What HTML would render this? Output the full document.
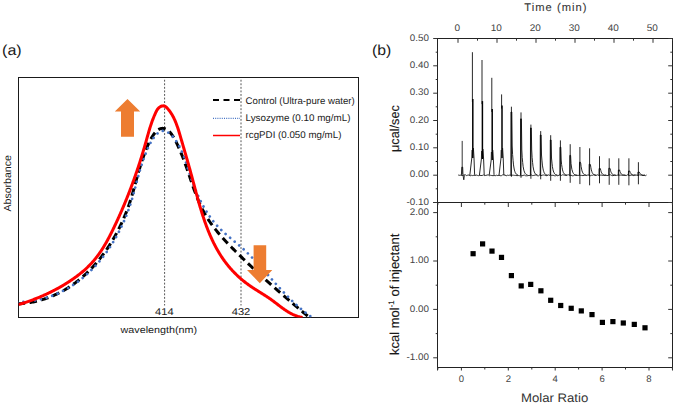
<!DOCTYPE html>
<html><head><meta charset="utf-8"><style>
html,body{margin:0;padding:0;background:#fff;}
body{width:676px;height:405px;overflow:hidden;}
svg{display:block;font-family:"Liberation Sans",sans-serif;text-rendering:geometricPrecision;}
</style></head><body>
<svg width="676" height="405" viewBox="0 0 676 405">
<rect width="676" height="405" fill="#fff"/>
<defs><clipPath id="cpa"><rect x="18.5" y="77.5" width="340" height="240"/></clipPath></defs>
<text x="2.1" y="54.8" font-size="14.5" fill="#1a1a1a" textLength="19.6" lengthAdjust="spacingAndGlyphs">(a)</text>
<rect x="18.5" y="77.5" width="340" height="240" fill="none" stroke="#1a1a1a" stroke-width="1"/>
<path d="M164.6,79.75 V305.5 M241,79.75 V305.5" stroke="#555" stroke-width="1" stroke-dasharray="1.9,1.66" fill="none"/>
<path clip-path="url(#cpa)" d="M17.60,303.82 L18.68,303.77 L19.76,303.70 L20.83,303.63 L21.90,303.54 L22.96,303.44 L24.01,303.34 L25.07,303.22 L26.11,303.09 L27.15,302.95 L28.19,302.81 L29.22,302.65 L30.25,302.48 L31.28,302.30 L32.29,302.11 L33.31,301.91 L34.32,301.70 L35.32,301.48 L36.32,301.25 L37.31,301.01 L38.30,300.77 L39.29,300.51 L40.27,300.24 L41.25,299.97 L42.22,299.68 L43.18,299.39 L44.14,299.08 L45.10,298.77 L46.05,298.45 L47.00,298.12 L47.94,297.78 L48.88,297.43 L49.81,297.07 L50.74,296.70 L51.66,296.33 L52.58,295.94 L53.49,295.55 L54.40,295.15 L55.30,294.74 L56.20,294.33 L57.10,293.90 L57.99,293.47 L58.87,293.03 L59.75,292.58 L60.63,292.12 L61.50,291.66 L62.36,291.18 L63.22,290.70 L64.08,290.21 L64.93,289.72 L65.78,289.21 L66.62,288.70 L67.45,288.19 L68.29,287.66 L69.11,287.13 L69.94,286.59 L70.75,286.04 L71.57,285.49 L72.37,284.93 L73.18,284.36 L73.97,283.79 L74.77,283.20 L75.56,282.62 L76.34,282.02 L77.12,281.42 L77.89,280.81 L78.66,280.20 L79.43,279.58 L80.19,278.95 L80.94,278.32 L81.69,277.68 L82.44,277.04 L83.18,276.39 L83.91,275.73 L84.64,275.07 L85.37,274.40 L86.09,273.73 L86.80,273.05 L87.51,272.37 L88.22,271.68 L88.92,270.98 L89.62,270.28 L90.31,269.58 L91.00,268.86 L91.68,268.15 L92.36,267.43 L93.03,266.70 L93.70,265.97 L94.36,265.23 L95.02,264.49 L95.67,263.75 L96.32,263.00 L96.96,262.24 L97.60,261.48 L98.23,260.72 L98.86,259.95 L99.49,259.18 L100.10,258.41 L100.72,257.62 L101.33,256.84 L101.93,256.05 L102.53,255.26 L103.13,254.46 L103.72,253.66 L104.30,252.86 L104.88,252.05 L105.46,251.24 L106.03,250.43 L106.59,249.61 L107.15,248.79 L107.71,247.97 L108.26,247.14 L108.80,246.31 L109.34,245.48 L109.88,244.64 L110.41,243.80 L110.94,242.96 L111.46,242.11 L111.98,241.26 L112.49,240.41 L112.99,239.56 L113.49,238.71 L113.99,237.85 L114.48,236.99 L114.97,236.12 L115.45,235.26 L115.93,234.39 L116.40,233.52 L116.87,232.65 L117.33,231.78 L117.79,230.90 L118.24,230.03 L118.69,229.15 L119.13,228.27 L119.57,227.39 L120.00,226.50 L120.43,225.62 L120.85,224.73 L121.27,223.85 L121.69,222.96 L122.09,222.07 L122.50,221.18 L122.90,220.29 L123.29,219.39 L123.68,218.50 L124.06,217.60 L124.44,216.71 L124.82,215.81 L125.18,214.92 L125.55,214.02 L125.91,213.12 L126.26,212.22 L126.61,211.33 L126.96,210.43 L127.29,209.53 L127.63,208.63 L127.96,207.73 L128.28,206.83 L128.60,205.93 L128.92,205.04 L129.23,204.14 L129.53,203.24 L129.83,202.34 L130.13,201.45 L130.42,200.55 L130.70,199.65 L130.98,198.76 L131.26,197.86 L131.53,196.96 L131.80,196.07 L132.07,195.17 L132.33,194.27 L132.59,193.37 L132.85,192.47 L133.11,191.57 L133.36,190.66 L133.62,189.76 L133.87,188.85 L134.12,187.94 L134.37,187.03 L134.62,186.11 L134.87,185.20 L135.13,184.28 L135.38,183.35 L135.63,182.43 L135.88,181.50 L136.14,180.56 L136.39,179.62 L136.65,178.68 L136.91,177.74 L137.18,176.79 L137.44,175.83 L137.71,174.87 L137.99,173.91 L138.26,172.94 L138.54,171.96 L138.83,170.98 L139.12,170.00 L139.41,169.00 L139.71,168.01 L140.02,167.00 L140.33,165.99 L140.65,164.97 L140.97,163.95 L141.30,162.92 L141.64,161.88 L141.98,160.83 L142.33,159.78 L142.69,158.72 L143.06,157.65 L143.43,156.57 L143.82,155.48 L144.21,154.39 L144.61,153.29 L145.02,152.19 L145.44,151.08 L145.87,149.98 L146.30,148.88 L146.75,147.78 L147.20,146.69 L147.67,145.61 L148.14,144.54 L148.62,143.49 L149.10,142.45 L149.60,141.44 L150.11,140.44 L150.62,139.46 L151.14,138.52 L151.67,137.60 L152.21,136.71 L152.76,135.85 L153.31,135.03 L153.87,134.24 L154.44,133.49 L155.02,132.79 L155.61,132.12 L156.21,131.51 L156.81,130.94 L157.42,130.42 L158.04,129.96 L158.67,129.55 L159.30,129.19 L159.95,128.90 L160.60,128.67 L161.26,128.50 L161.92,128.40 L162.60,128.37 L163.28,128.40 L163.96,128.50 L164.64,128.67 L165.32,128.90 L165.99,129.20 L166.65,129.55 L167.30,129.96 L167.94,130.43 L168.57,130.95 L169.19,131.53 L169.80,132.15 L170.39,132.81 L170.98,133.52 L171.56,134.27 L172.12,135.05 L172.68,135.87 L173.22,136.72 L173.76,137.60 L174.29,138.50 L174.81,139.43 L175.32,140.37 L175.82,141.33 L176.31,142.31 L176.79,143.30 L177.27,144.30 L177.73,145.30 L178.19,146.31 L178.64,147.31 L179.09,148.32 L179.53,149.32 L179.95,150.33 L180.38,151.33 L180.79,152.32 L181.20,153.32 L181.60,154.32 L182.00,155.31 L182.39,156.30 L182.78,157.29 L183.16,158.28 L183.53,159.26 L183.90,160.24 L184.27,161.22 L184.63,162.20 L184.99,163.18 L185.34,164.15 L185.69,165.13 L186.03,166.10 L186.38,167.07 L186.71,168.03 L187.05,169.00 L187.38,169.96 L187.71,170.92 L188.04,171.88 L188.37,172.83 L188.69,173.79 L189.01,174.74 L189.34,175.69 L189.66,176.63 L189.98,177.58 L190.29,178.52 L190.61,179.46 L190.93,180.40 L191.25,181.33 L191.56,182.26 L191.88,183.19 L192.20,184.12 L192.52,185.05 L192.84,185.97 L193.16,186.89 L193.49,187.81 L193.81,188.72 L194.14,189.63 L194.47,190.55 L194.80,191.45 L195.13,192.36 L195.47,193.26 L195.81,194.16 L196.15,195.06 L196.50,195.95 L196.85,196.84 L197.20,197.73 L197.56,198.62 L197.92,199.50 L198.29,200.38 L198.66,201.26 L199.03,202.14 L199.41,203.01 L199.80,203.88 L200.19,204.75 L200.59,205.61 L201.00,206.47 L201.41,207.33 L201.83,208.19 L202.25,209.04 L202.68,209.89 L203.12,210.74 L203.57,211.58 L204.02,212.42 L204.48,213.26 L204.95,214.09 L205.43,214.92 L205.91,215.75 L206.41,216.58 L206.91,217.40 L207.42,218.22 L207.95,219.04 L208.48,219.85 L209.01,220.66 L209.56,221.47 L210.11,222.27 L210.68,223.07 L211.24,223.87 L211.82,224.67 L212.40,225.46 L212.99,226.25 L213.59,227.04 L214.20,227.82 L214.80,228.60 L215.42,229.38 L216.04,230.15 L216.67,230.92 L217.30,231.69 L217.94,232.46 L218.58,233.22 L219.23,233.98 L219.88,234.74 L220.54,235.50 L221.20,236.25 L221.86,237.00 L222.53,237.75 L223.20,238.49 L223.88,239.23 L224.56,239.97 L225.24,240.71 L225.93,241.44 L226.61,242.17 L227.30,242.90 L227.99,243.63 L228.69,244.35 L229.38,245.07 L230.08,245.79 L230.78,246.51 L231.48,247.22 L232.18,247.93 L232.88,248.64 L233.58,249.35 L234.28,250.05 L234.98,250.75 L235.69,251.45 L236.39,252.14 L237.09,252.84 L237.79,253.53 L238.49,254.22 L239.19,254.91 L239.89,255.59 L240.58,256.27 L241.28,256.95 L241.98,257.63 L242.67,258.31 L243.37,258.98 L244.06,259.65 L244.76,260.32 L245.45,260.99 L246.14,261.66 L246.84,262.32 L247.53,262.98 L248.22,263.64 L248.91,264.30 L249.61,264.96 L250.30,265.61 L250.99,266.27 L251.68,266.92 L252.37,267.57 L253.06,268.22 L253.75,268.87 L254.44,269.51 L255.14,270.16 L255.83,270.80 L256.52,271.45 L257.21,272.09 L257.90,272.73 L258.59,273.37 L259.29,274.00 L259.98,274.64 L260.67,275.28 L261.36,275.91 L262.06,276.54 L262.75,277.18 L263.45,277.81 L264.14,278.44 L264.84,279.07 L265.53,279.70 L266.23,280.33 L266.93,280.96 L267.63,281.59 L268.33,282.21 L269.02,282.84 L269.73,283.47 L270.43,284.09 L271.13,284.72 L271.83,285.34 L272.54,285.97 L273.24,286.59 L273.95,287.22 L274.65,287.84 L275.36,288.47 L276.07,289.09 L276.78,289.71 L277.49,290.34 L278.21,290.96 L278.92,291.59 L279.64,292.21 L280.35,292.83 L281.07,293.46 L281.79,294.08 L282.51,294.71 L283.24,295.33 L283.96,295.96 L284.68,296.59 L285.41,297.21 L286.14,297.84 L286.87,298.47 L287.60,299.09 L288.34,299.72 L289.07,300.35 L289.81,300.98 L290.55,301.61 L291.29,302.25 L292.03,302.88 L292.78,303.51 L293.53,304.14 L294.28,304.78 L295.03,305.42 L295.78,306.05 L296.54,306.69 L297.29,307.33 L298.05,307.97 L298.81,308.61 L299.58,309.25 L300.35,309.90 L301.11,310.54 L301.89,311.19 L302.66,311.84 L303.43,312.49 L304.21,313.14 L304.99,313.79 L305.78,314.45 L306.56,315.10 L307.35,315.76 L308.14,316.42 L308.94,317.08 L309.74,317.74 L310.54,318.41" fill="none" stroke="#000" stroke-width="3" stroke-dasharray="7.5,4.5"/>
<path clip-path="url(#cpa)" d="M17.49,302.20 L18.59,302.18 L19.68,302.15 L20.76,302.10 L21.84,302.05 L22.92,301.98 L23.99,301.91 L25.05,301.82 L26.11,301.73 L27.17,301.62 L28.22,301.50 L29.26,301.38 L30.30,301.24 L31.34,301.09 L32.37,300.94 L33.40,300.77 L34.42,300.59 L35.43,300.41 L36.44,300.21 L37.45,300.01 L38.45,299.79 L39.45,299.57 L40.44,299.33 L41.43,299.09 L42.41,298.84 L43.39,298.57 L44.36,298.30 L45.33,298.02 L46.29,297.73 L47.25,297.44 L48.20,297.13 L49.15,296.81 L50.09,296.49 L51.03,296.15 L51.97,295.81 L52.89,295.46 L53.82,295.10 L54.74,294.73 L55.65,294.36 L56.56,293.97 L57.46,293.58 L58.36,293.18 L59.26,292.77 L60.15,292.35 L61.03,291.93 L61.91,291.49 L62.79,291.05 L63.66,290.60 L64.52,290.14 L65.38,289.68 L66.24,289.21 L67.09,288.73 L67.93,288.24 L68.77,287.74 L69.61,287.24 L70.44,286.73 L71.27,286.21 L72.09,285.69 L72.90,285.16 L73.72,284.62 L74.52,284.07 L75.32,283.52 L76.12,282.96 L76.91,282.39 L77.70,281.82 L78.48,281.24 L79.26,280.65 L80.03,280.06 L80.80,279.46 L81.56,278.86 L82.32,278.24 L83.07,277.62 L83.81,277.00 L84.56,276.37 L85.29,275.73 L86.03,275.09 L86.76,274.44 L87.48,273.78 L88.20,273.12 L88.91,272.45 L89.62,271.78 L90.32,271.10 L91.02,270.41 L91.71,269.72 L92.40,269.03 L93.08,268.33 L93.76,267.62 L94.44,266.91 L95.10,266.19 L95.77,265.47 L96.43,264.74 L97.08,264.01 L97.73,263.27 L98.37,262.53 L99.01,261.78 L99.65,261.03 L100.28,260.27 L100.90,259.51 L101.52,258.74 L102.13,257.97 L102.74,257.20 L103.35,256.42 L103.95,255.63 L104.54,254.84 L105.13,254.05 L105.72,253.25 L106.30,252.45 L106.87,251.65 L107.44,250.84 L108.01,250.03 L108.57,249.21 L109.12,248.39 L109.67,247.56 L110.22,246.73 L110.76,245.90 L111.29,245.07 L111.82,244.23 L112.35,243.39 L112.87,242.54 L113.38,241.69 L113.89,240.84 L114.40,239.98 L114.90,239.12 L115.39,238.26 L115.89,237.40 L116.37,236.53 L116.85,235.66 L117.33,234.79 L117.80,233.91 L118.26,233.03 L118.72,232.15 L119.18,231.26 L119.63,230.38 L120.08,229.49 L120.52,228.60 L120.95,227.70 L121.39,226.81 L121.81,225.91 L122.23,225.01 L122.65,224.11 L123.06,223.20 L123.47,222.30 L123.87,221.39 L124.26,220.48 L124.65,219.57 L125.04,218.66 L125.42,217.74 L125.80,216.83 L126.17,215.91 L126.54,214.99 L126.90,214.07 L127.25,213.15 L127.60,212.22 L127.95,211.30 L128.29,210.37 L128.63,209.45 L128.96,208.52 L129.29,207.59 L129.61,206.66 L129.92,205.73 L130.23,204.80 L130.54,203.87 L130.84,202.94 L131.14,202.01 L131.43,201.07 L131.72,200.14 L132.00,199.21 L132.28,198.27 L132.55,197.34 L132.82,196.40 L133.09,195.47 L133.35,194.53 L133.61,193.59 L133.87,192.65 L134.13,191.71 L134.38,190.77 L134.64,189.83 L134.89,188.88 L135.14,187.94 L135.39,186.99 L135.64,186.04 L135.89,185.10 L136.14,184.15 L136.39,183.19 L136.64,182.24 L136.89,181.29 L137.15,180.33 L137.40,179.37 L137.66,178.41 L137.92,177.45 L138.18,176.48 L138.44,175.52 L138.71,174.55 L138.98,173.58 L139.26,172.61 L139.54,171.63 L139.82,170.66 L140.11,169.68 L140.40,168.70 L140.70,167.71 L141.00,166.73 L141.31,165.74 L141.63,164.75 L141.95,163.75 L142.28,162.76 L142.61,161.76 L142.96,160.76 L143.31,159.75 L143.67,158.74 L144.03,157.73 L144.41,156.72 L144.79,155.70 L145.18,154.68 L145.58,153.66 L145.99,152.64 L146.41,151.62 L146.84,150.60 L147.28,149.59 L147.72,148.58 L148.17,147.58 L148.64,146.60 L149.11,145.63 L149.58,144.67 L150.07,143.73 L150.56,142.80 L151.06,141.90 L151.57,141.02 L152.09,140.16 L152.61,139.33 L153.14,138.53 L153.68,137.75 L154.22,137.01 L154.77,136.30 L155.33,135.63 L155.89,134.99 L156.46,134.39 L157.04,133.83 L157.62,133.32 L158.21,132.84 L158.80,132.42 L159.40,132.04 L160.01,131.71 L160.62,131.44 L161.24,131.22 L161.86,131.05 L162.49,130.94 L163.12,130.89 L163.76,130.90 L164.40,130.98 L165.04,131.11 L165.69,131.30 L166.35,131.55 L167.00,131.86 L167.65,132.21 L168.31,132.62 L168.96,133.07 L169.61,133.57 L170.26,134.11 L170.91,134.69 L171.55,135.31 L172.18,135.97 L172.81,136.66 L173.44,137.39 L174.06,138.14 L174.67,138.92 L175.27,139.73 L175.86,140.56 L176.44,141.41 L177.01,142.28 L177.56,143.17 L178.11,144.08 L178.64,144.99 L179.15,145.92 L179.65,146.85 L180.14,147.79 L180.60,148.73 L181.06,149.68 L181.50,150.64 L181.92,151.60 L182.34,152.56 L182.74,153.53 L183.13,154.50 L183.51,155.48 L183.88,156.45 L184.24,157.43 L184.60,158.42 L184.94,159.40 L185.28,160.39 L185.62,161.38 L185.95,162.37 L186.27,163.36 L186.59,164.35 L186.91,165.34 L187.22,166.33 L187.54,167.33 L187.85,168.32 L188.16,169.31 L188.48,170.30 L188.79,171.29 L189.11,172.27 L189.43,173.26 L189.76,174.24 L190.08,175.22 L190.41,176.20 L190.75,177.18 L191.08,178.15 L191.43,179.13 L191.77,180.10 L192.12,181.06 L192.47,182.03 L192.83,182.99 L193.19,183.95 L193.55,184.90 L193.92,185.85 L194.29,186.80 L194.66,187.75 L195.04,188.69 L195.43,189.63 L195.82,190.57 L196.21,191.50 L196.61,192.43 L197.01,193.35 L197.42,194.27 L197.83,195.19 L198.24,196.10 L198.66,197.01 L199.09,197.91 L199.52,198.81 L199.95,199.70 L200.39,200.59 L200.84,201.48 L201.29,202.36 L201.75,203.24 L202.21,204.11 L202.67,204.98 L203.14,205.84 L203.62,206.69 L204.10,207.54 L204.59,208.39 L205.09,209.23 L205.59,210.06 L206.09,210.89 L206.60,211.71 L207.12,212.53 L207.64,213.34 L208.17,214.15 L208.71,214.95 L209.25,215.74 L209.80,216.53 L210.35,217.31 L210.91,218.08 L211.48,218.85 L212.05,219.61 L212.63,220.36 L213.22,221.11 L213.81,221.85 L214.41,222.58 L215.02,223.31 L215.63,224.03 L216.25,224.74 L216.88,225.44 L217.51,226.14 L218.16,226.83 L218.80,227.51 L219.46,228.19 L220.12,228.85 L220.79,229.51 L221.47,230.17 L222.15,230.82 L222.83,231.46 L223.52,232.09 L224.22,232.73 L224.92,233.35 L225.63,233.98 L226.33,234.60 L227.04,235.21 L227.76,235.83 L228.48,236.44 L229.20,237.04 L229.92,237.65 L230.64,238.25 L231.37,238.86 L232.09,239.46 L232.82,240.06 L233.54,240.66 L234.27,241.27 L235.00,241.87 L235.72,242.47 L236.45,243.08 L237.17,243.69 L237.89,244.30 L238.61,244.91 L239.33,245.52 L240.05,246.14 L240.76,246.76 L241.47,247.39 L242.17,248.02 L242.88,248.65 L243.58,249.29 L244.27,249.93 L244.96,250.58 L245.65,251.23 L246.34,251.88 L247.02,252.54 L247.70,253.20 L248.38,253.86 L249.06,254.53 L249.73,255.20 L250.40,255.87 L251.07,256.55 L251.73,257.23 L252.40,257.91 L253.06,258.60 L253.72,259.29 L254.38,259.98 L255.03,260.67 L255.69,261.37 L256.34,262.07 L256.99,262.77 L257.64,263.47 L258.29,264.17 L258.94,264.88 L259.59,265.59 L260.23,266.30 L260.88,267.01 L261.52,267.72 L262.17,268.44 L262.81,269.15 L263.45,269.87 L264.09,270.59 L264.73,271.31 L265.37,272.03 L266.02,272.75 L266.66,273.47 L267.30,274.20 L267.94,274.92 L268.58,275.65 L269.22,276.37 L269.86,277.10 L270.51,277.82 L271.15,278.55 L271.79,279.28 L272.44,280.00 L273.08,280.73 L273.73,281.45 L274.38,282.18 L275.03,282.91 L275.68,283.63 L276.33,284.36 L276.98,285.08 L277.64,285.80 L278.29,286.52 L278.95,287.25 L279.61,287.97 L280.27,288.69 L280.94,289.40 L281.60,290.12 L282.27,290.84 L282.94,291.55 L283.61,292.26 L284.29,292.97 L284.96,293.68 L285.65,294.39 L286.33,295.10 L287.01,295.80 L287.70,296.50 L288.39,297.20 L289.09,297.90 L289.79,298.59 L290.49,299.28 L291.19,299.97 L291.90,300.66 L292.62,301.34 L293.33,302.03 L294.05,302.70 L294.77,303.38 L295.50,304.05 L296.23,304.72 L296.97,305.39 L297.71,306.05 L298.45,306.71 L299.20,307.36 L299.95,308.02 L300.71,308.66 L301.47,309.31 L302.24,309.95 L303.01,310.58 L303.79,311.22 L304.57,311.84 L305.36,312.47 L306.15,313.09 L306.95,313.70 L307.76,314.31 L308.57,314.92 L309.38,315.52 L310.20,316.11 L311.03,316.71 L311.86,317.29 L312.70,317.87 L313.54,318.45" fill="none" stroke="#4472C4" stroke-width="2.7" stroke-dasharray="0.01,5.9" stroke-linecap="round"/>
<path clip-path="url(#cpa)" d="M18.49,304.58 L19.22,304.37 L19.94,304.15 L20.66,303.94 L21.38,303.71 L22.10,303.49 L22.82,303.26 L23.54,303.03 L24.26,302.80 L24.98,302.57 L25.69,302.33 L26.41,302.09 L27.12,301.85 L27.84,301.60 L28.55,301.35 L29.26,301.10 L29.97,300.85 L30.68,300.59 L31.39,300.33 L32.10,300.07 L32.80,299.81 L33.51,299.54 L34.21,299.27 L34.92,299.00 L35.62,298.73 L36.32,298.45 L37.02,298.17 L37.72,297.89 L38.42,297.61 L39.12,297.32 L39.81,297.03 L40.51,296.74 L41.20,296.44 L41.89,296.14 L42.58,295.84 L43.27,295.54 L43.96,295.23 L44.65,294.93 L45.33,294.62 L46.02,294.30 L46.70,293.99 L47.38,293.67 L48.06,293.35 L48.74,293.02 L49.42,292.70 L50.09,292.37 L50.77,292.04 L51.44,291.70 L52.11,291.37 L52.78,291.03 L53.45,290.68 L54.12,290.34 L54.78,289.99 L55.45,289.64 L56.11,289.29 L56.77,288.93 L57.44,288.57 L58.09,288.21 L58.75,287.85 L59.41,287.48 L60.06,287.11 L60.72,286.74 L61.37,286.36 L62.02,285.98 L62.67,285.60 L63.32,285.21 L63.96,284.83 L64.61,284.44 L65.25,284.04 L65.90,283.65 L66.54,283.25 L67.18,282.84 L67.81,282.44 L68.45,282.03 L69.09,281.62 L69.72,281.21 L70.35,280.79 L70.98,280.37 L71.61,279.94 L72.24,279.52 L72.86,279.09 L73.48,278.65 L74.10,278.22 L74.72,277.78 L75.34,277.33 L75.95,276.89 L76.56,276.44 L77.17,275.99 L77.77,275.53 L78.38,275.07 L78.98,274.61 L79.57,274.14 L80.17,273.67 L80.76,273.19 L81.34,272.72 L81.93,272.24 L82.51,271.75 L83.09,271.26 L83.66,270.77 L84.23,270.28 L84.79,269.78 L85.36,269.27 L85.91,268.77 L86.47,268.25 L87.02,267.74 L87.56,267.22 L88.10,266.70 L88.64,266.17 L89.17,265.64 L89.70,265.11 L90.22,264.57 L90.74,264.03 L91.25,263.48 L91.76,262.93 L92.26,262.37 L92.76,261.81 L93.25,261.25 L93.74,260.68 L94.22,260.11 L94.70,259.54 L95.17,258.96 L95.64,258.38 L96.11,257.79 L96.57,257.20 L97.02,256.61 L97.47,256.01 L97.92,255.41 L98.36,254.81 L98.80,254.20 L99.23,253.59 L99.66,252.98 L100.09,252.36 L100.51,251.74 L100.93,251.12 L101.34,250.49 L101.75,249.87 L102.16,249.23 L102.56,248.60 L102.96,247.97 L103.36,247.33 L103.75,246.69 L104.14,246.04 L104.53,245.40 L104.91,244.75 L105.30,244.10 L105.67,243.45 L106.05,242.79 L106.42,242.14 L106.79,241.48 L107.16,240.82 L107.52,240.16 L107.88,239.49 L108.24,238.83 L108.60,238.16 L108.95,237.49 L109.30,236.82 L109.65,236.15 L110.00,235.48 L110.35,234.80 L110.69,234.13 L111.03,233.45 L111.37,232.78 L111.71,232.10 L112.05,231.42 L112.38,230.74 L112.72,230.06 L113.05,229.37 L113.38,228.69 L113.71,228.01 L114.04,227.33 L114.36,226.64 L114.69,225.96 L115.02,225.27 L115.34,224.59 L115.66,223.90 L115.98,223.22 L116.30,222.53 L116.62,221.84 L116.94,221.16 L117.26,220.47 L117.57,219.78 L117.89,219.09 L118.20,218.40 L118.51,217.71 L118.83,217.02 L119.14,216.33 L119.44,215.64 L119.75,214.95 L120.06,214.26 L120.37,213.57 L120.67,212.88 L120.97,212.19 L121.28,211.49 L121.58,210.80 L121.88,210.11 L122.18,209.41 L122.48,208.72 L122.77,208.03 L123.07,207.33 L123.37,206.64 L123.66,205.94 L123.95,205.24 L124.24,204.55 L124.53,203.85 L124.82,203.15 L125.11,202.46 L125.40,201.76 L125.69,201.06 L125.97,200.36 L126.26,199.66 L126.54,198.96 L126.82,198.26 L127.10,197.56 L127.38,196.86 L127.66,196.16 L127.94,195.46 L128.22,194.76 L128.49,194.06 L128.77,193.36 L129.04,192.66 L129.32,191.95 L129.59,191.25 L129.86,190.55 L130.13,189.84 L130.40,189.14 L130.66,188.43 L130.93,187.73 L131.20,187.03 L131.46,186.32 L131.72,185.61 L131.99,184.91 L132.25,184.20 L132.51,183.50 L132.77,182.79 L133.02,182.08 L133.28,181.37 L133.54,180.67 L133.79,179.96 L134.05,179.25 L134.30,178.54 L134.55,177.83 L134.80,177.12 L135.05,176.41 L135.30,175.70 L135.55,174.99 L135.80,174.28 L136.04,173.57 L136.29,172.86 L136.53,172.15 L136.77,171.44 L137.02,170.73 L137.26,170.01 L137.50,169.30 L137.74,168.59 L137.97,167.87 L138.21,167.16 L138.45,166.45 L138.68,165.73 L138.92,165.02 L139.15,164.30 L139.38,163.59 L139.61,162.88 L139.84,162.16 L140.07,161.44 L140.30,160.73 L140.53,160.01 L140.75,159.30 L140.98,158.58 L141.20,157.86 L141.43,157.15 L141.65,156.43 L141.87,155.71 L142.09,154.99 L142.31,154.27 L142.53,153.56 L142.74,152.84 L142.96,152.12 L143.18,151.40 L143.39,150.68 L143.60,149.96 L143.82,149.24 L144.03,148.52 L144.24,147.80 L144.45,147.08 L144.66,146.36 L144.86,145.64 L145.07,144.92 L145.28,144.19 L145.48,143.47 L145.69,142.75 L145.89,142.03 L146.09,141.31 L146.29,140.58 L146.49,139.86 L146.69,139.14 L146.89,138.41 L147.10,137.69 L147.30,136.97 L147.50,136.24 L147.70,135.52 L147.90,134.80 L148.11,134.07 L148.32,133.35 L148.52,132.62 L148.73,131.90 L148.94,131.18 L149.16,130.45 L149.37,129.73 L149.59,129.01 L149.81,128.28 L150.04,127.56 L150.26,126.84 L150.50,126.11 L150.73,125.39 L150.97,124.67 L151.21,123.94 L151.46,123.22 L151.71,122.50 L151.96,121.77 L152.22,121.05 L152.49,120.33 L152.76,119.61 L153.04,118.89 L153.32,118.17 L153.60,117.44 L153.90,116.72 L154.20,116.00 L154.50,115.28 L154.82,114.56 L155.14,113.85 L155.46,113.13 L155.80,112.41 L156.14,111.70 L156.50,110.99 L156.89,110.31 L157.30,109.65 L157.74,109.02 L158.22,108.43 L158.74,107.88 L159.31,107.38 L159.92,106.94 L160.57,106.57 L161.23,106.26 L161.90,106.05 L162.58,105.92 L163.24,105.88 L163.89,105.96 L164.51,106.14 L165.11,106.42 L165.68,106.78 L166.24,107.21 L166.77,107.70 L167.29,108.22 L167.79,108.78 L168.27,109.35 L168.75,109.93 L169.21,110.51 L169.66,111.11 L170.10,111.72 L170.52,112.33 L170.94,112.95 L171.34,113.58 L171.74,114.21 L172.12,114.85 L172.49,115.50 L172.85,116.16 L173.21,116.82 L173.55,117.49 L173.89,118.17 L174.21,118.85 L174.53,119.53 L174.84,120.22 L175.14,120.92 L175.44,121.61 L175.73,122.32 L176.01,123.03 L176.29,123.74 L176.56,124.45 L176.82,125.17 L177.08,125.89 L177.33,126.62 L177.58,127.34 L177.82,128.07 L178.06,128.80 L178.30,129.53 L178.53,130.27 L178.76,131.00 L178.99,131.74 L179.21,132.47 L179.43,133.21 L179.65,133.95 L179.87,134.68 L180.08,135.42 L180.30,136.16 L180.51,136.89 L180.73,137.63 L180.94,138.36 L181.15,139.09 L181.36,139.82 L181.58,140.55 L181.79,141.28 L182.00,142.00 L182.21,142.73 L182.42,143.45 L182.64,144.18 L182.85,144.90 L183.06,145.62 L183.27,146.35 L183.48,147.07 L183.69,147.79 L183.90,148.51 L184.10,149.22 L184.31,149.94 L184.52,150.66 L184.73,151.38 L184.94,152.09 L185.14,152.81 L185.35,153.52 L185.56,154.24 L185.76,154.95 L185.97,155.67 L186.18,156.38 L186.38,157.10 L186.59,157.81 L186.79,158.53 L187.00,159.24 L187.20,159.95 L187.40,160.67 L187.61,161.38 L187.81,162.10 L188.01,162.81 L188.21,163.52 L188.42,164.24 L188.62,164.95 L188.82,165.67 L189.02,166.38 L189.22,167.10 L189.42,167.82 L189.62,168.53 L189.82,169.25 L190.02,169.97 L190.22,170.69 L190.41,171.41 L190.61,172.12 L190.81,172.85 L191.00,173.57 L191.20,174.29 L191.40,175.01 L191.59,175.73 L191.79,176.46 L191.98,177.18 L192.18,177.91 L192.37,178.64 L192.57,179.36 L192.76,180.09 L192.95,180.82 L193.15,181.55 L193.34,182.28 L193.54,183.01 L193.73,183.74 L193.92,184.47 L194.12,185.20 L194.31,185.93 L194.51,186.67 L194.70,187.40 L194.90,188.13 L195.09,188.86 L195.29,189.60 L195.49,190.33 L195.68,191.06 L195.88,191.80 L196.08,192.53 L196.27,193.27 L196.47,194.00 L196.67,194.74 L196.87,195.47 L197.07,196.20 L197.28,196.94 L197.48,197.67 L197.68,198.41 L197.88,199.14 L198.09,199.88 L198.30,200.61 L198.50,201.34 L198.71,202.08 L198.92,202.81 L199.13,203.54 L199.34,204.27 L199.55,205.01 L199.77,205.74 L199.98,206.47 L200.20,207.20 L200.41,207.93 L200.63,208.66 L200.85,209.39 L201.07,210.12 L201.30,210.85 L201.52,211.58 L201.75,212.30 L201.97,213.03 L202.20,213.75 L202.44,214.48 L202.67,215.20 L202.90,215.93 L203.14,216.65 L203.38,217.37 L203.62,218.09 L203.86,218.81 L204.10,219.53 L204.35,220.25 L204.59,220.97 L204.84,221.68 L205.10,222.40 L205.35,223.11 L205.61,223.83 L205.86,224.54 L206.12,225.25 L206.39,225.96 L206.65,226.67 L206.92,227.37 L207.19,228.08 L207.46,228.78 L207.74,229.49 L208.01,230.19 L208.29,230.89 L208.58,231.59 L208.86,232.28 L209.15,232.98 L209.44,233.68 L209.73,234.37 L210.03,235.06 L210.33,235.75 L210.63,236.44 L210.93,237.12 L211.24,237.81 L211.55,238.49 L211.86,239.17 L212.18,239.85 L212.50,240.53 L212.82,241.21 L213.15,241.88 L213.48,242.55 L213.81,243.23 L214.15,243.89 L214.48,244.56 L214.83,245.22 L215.17,245.89 L215.52,246.55 L215.87,247.21 L216.23,247.86 L216.59,248.52 L216.95,249.17 L217.32,249.82 L217.69,250.47 L218.06,251.11 L218.44,251.75 L218.82,252.40 L219.21,253.03 L219.60,253.67 L219.99,254.30 L220.39,254.94 L220.79,255.56 L221.19,256.19 L221.60,256.81 L222.02,257.44 L222.43,258.05 L222.86,258.67 L223.28,259.28 L223.71,259.89 L224.15,260.50 L224.58,261.11 L225.03,261.71 L225.47,262.31 L225.93,262.91 L226.38,263.50 L226.84,264.09 L227.31,264.68 L227.78,265.27 L228.25,265.85 L228.73,266.43 L229.22,267.01 L229.70,267.58 L230.20,268.15 L230.70,268.72 L231.20,269.28 L231.71,269.84 L232.22,270.40 L232.74,270.96 L233.26,271.51 L233.78,272.06 L234.31,272.60 L234.85,273.14 L235.39,273.68 L235.93,274.21 L236.47,274.74 L237.02,275.27 L237.58,275.79 L238.14,276.31 L238.70,276.83 L239.26,277.34 L239.83,277.85 L240.40,278.35 L240.98,278.85 L241.56,279.34 L242.14,279.83 L242.73,280.32 L243.32,280.80 L243.91,281.28 L244.50,281.76 L245.10,282.23 L245.70,282.69 L246.30,283.15 L246.91,283.61 L247.52,284.06 L248.13,284.51 L248.74,284.95 L249.35,285.38 L249.97,285.82 L250.59,286.25 L251.21,286.67 L251.84,287.09 L252.46,287.51 L253.09,287.92 L253.72,288.33 L254.34,288.74 L254.98,289.14 L255.61,289.55 L256.24,289.95 L256.87,290.35 L257.51,290.75 L258.14,291.14 L258.77,291.54 L259.41,291.94 L260.04,292.33 L260.68,292.73 L261.31,293.12 L261.95,293.52 L262.58,293.92 L263.22,294.32 L263.85,294.72 L264.48,295.12 L265.11,295.52 L265.74,295.93 L266.37,296.34 L267.00,296.75 L267.62,297.16 L268.25,297.58 L268.87,298.00 L269.49,298.42 L270.11,298.85 L270.73,299.29 L271.34,299.72 L271.95,300.17 L272.56,300.61 L273.17,301.06 L273.78,301.52 L274.38,301.97 L274.99,302.43 L275.59,302.89 L276.19,303.35 L276.79,303.81 L277.40,304.28 L278.00,304.74 L278.60,305.20 L279.20,305.66 L279.81,306.12 L280.41,306.58 L281.02,307.04 L281.63,307.49 L282.24,307.94 L282.85,308.38 L283.47,308.82 L284.08,309.25 L284.70,309.68 L285.32,310.11 L285.95,310.52 L286.58,310.93 L287.21,311.34 L287.85,311.73 L288.49,312.12 L289.14,312.50 L289.79,312.86 L290.45,313.22 L291.11,313.57 L291.77,313.91 L292.45,314.24 L293.12,314.55 L293.81,314.85 L294.50,315.14 L295.20,315.42 L295.90,315.68 L296.61,315.93 L297.33,316.17 L298.06,316.39 L298.79,316.59 L299.53,316.78 L300.29,316.95 L301.05,317.10 L301.81,317.24 L302.59,317.36" fill="none" stroke="#FF0000" stroke-width="3"/>
<path d="M114.8,111.6 L127.5,99 L140.2,111.6 L134,111.6 L134,136.8 L121,136.8 L121,111.6 Z" fill="#ED7D31"/>
<path d="M253.6,245.3 L266.2,245.3 L266.2,270 L272.3,270 L259.8,283.2 L247,270 L253.6,270 Z" fill="#ED7D31"/>
<path d="M213,100 H240" stroke="#000" stroke-width="2" stroke-dasharray="6,4.5"/>
<path d="M213,118.3 H240" stroke="#4472C4" stroke-width="1.2" stroke-dasharray="1,1.2"/>
<path d="M213,135.5 H240" stroke="#FF0000" stroke-width="1.5"/>
<g font-size="9.7" fill="#1a1a1a">
<text x="245.6" y="103.8" textLength="109.2" lengthAdjust="spacingAndGlyphs">Control (Ultra-pure water)</text>
<text x="245.6" y="120.9" textLength="104.8" lengthAdjust="spacingAndGlyphs">Lysozyme (0.10 mg/mL)</text>
<text x="245.6" y="137.5" textLength="95.8" lengthAdjust="spacingAndGlyphs">rcgPDI (0.050 mg/mL)</text>
</g>
<g font-size="9.9" fill="#1a1a1a">
<text x="164.3" y="314.6" text-anchor="middle" textLength="18.6" lengthAdjust="spacingAndGlyphs">414</text>
<text x="241" y="314.6" text-anchor="middle" textLength="18.6" lengthAdjust="spacingAndGlyphs">432</text>
<text x="120.5" y="332.9" font-size="9.6" textLength="76.6" lengthAdjust="spacingAndGlyphs">wavelength(nm)</text>
<text transform="translate(10.7,211.4) rotate(-90)" font-size="10.2" textLength="56.2" lengthAdjust="spacingAndGlyphs">Absorbance</text>
</g>
<text x="372.1" y="54.9" font-size="14.5" fill="#1a1a1a" textLength="19.3" lengthAdjust="spacingAndGlyphs">(b)</text>
<text x="524.2" y="10.9" font-size="11.2" fill="#333" stroke="#333" stroke-width="0.08" textLength="62.4" lengthAdjust="spacing">Time (min)</text>
<g font-size="9.6" fill="#444">
<text x="428.9" y="40.6" text-anchor="end" textLength="19.1" lengthAdjust="spacingAndGlyphs">0.50</text><text x="428.9" y="67.9" text-anchor="end" textLength="19.1" lengthAdjust="spacingAndGlyphs">0.40</text><text x="428.9" y="95.3" text-anchor="end" textLength="19.1" lengthAdjust="spacingAndGlyphs">0.30</text><text x="428.9" y="122.6" text-anchor="end" textLength="19.1" lengthAdjust="spacingAndGlyphs">0.20</text><text x="428.9" y="149.9" text-anchor="end" textLength="19.1" lengthAdjust="spacingAndGlyphs">0.10</text><text x="428.9" y="177.3" text-anchor="end" textLength="19.1" lengthAdjust="spacingAndGlyphs">0.00</text><text x="428.9" y="204.6" text-anchor="end" textLength="22.4" lengthAdjust="spacingAndGlyphs">-0.10</text><text x="428.9" y="214.7" text-anchor="end" textLength="19.1" lengthAdjust="spacingAndGlyphs">2.00</text><text x="428.9" y="263.1" text-anchor="end" textLength="19.1" lengthAdjust="spacingAndGlyphs">1.00</text><text x="428.9" y="311.5" text-anchor="end" textLength="19.1" lengthAdjust="spacingAndGlyphs">0.00</text><text x="428.9" y="359.9" text-anchor="end" textLength="22.4" lengthAdjust="spacingAndGlyphs">-1.00</text><text x="457.3" y="30.9" text-anchor="middle" textLength="5.6" lengthAdjust="spacingAndGlyphs">0</text><text x="496.3" y="30.9" text-anchor="middle" textLength="11.1" lengthAdjust="spacingAndGlyphs">10</text><text x="535.3" y="30.9" text-anchor="middle" textLength="11.1" lengthAdjust="spacingAndGlyphs">20</text><text x="574.3" y="30.9" text-anchor="middle" textLength="11.1" lengthAdjust="spacingAndGlyphs">30</text><text x="613.3" y="30.9" text-anchor="middle" textLength="11.1" lengthAdjust="spacingAndGlyphs">40</text><text x="652.3" y="30.9" text-anchor="middle" textLength="11.1" lengthAdjust="spacingAndGlyphs">50</text><text x="461.4" y="382.3" text-anchor="middle" textLength="5.3" lengthAdjust="spacingAndGlyphs">0</text><text x="508.3" y="382.3" text-anchor="middle" textLength="5.3" lengthAdjust="spacingAndGlyphs">2</text><text x="555.2" y="382.3" text-anchor="middle" textLength="5.3" lengthAdjust="spacingAndGlyphs">4</text><text x="602.1" y="382.3" text-anchor="middle" textLength="5.3" lengthAdjust="spacingAndGlyphs">6</text><text x="649.0" y="382.3" text-anchor="middle" textLength="5.3" lengthAdjust="spacingAndGlyphs">8</text>
</g>
<text x="521" y="401.6" font-size="12.4" fill="#333" textLength="67.2" lengthAdjust="spacingAndGlyphs">Molar Ratio</text>
<text transform="translate(399,152) rotate(-90)" font-size="12.8" fill="#1a1a1a" stroke="#1a1a1a" stroke-width="0.12" textLength="46.8" lengthAdjust="spacingAndGlyphs">μcal/sec</text>
<text transform="translate(399,355) rotate(-90)" font-size="13" fill="#1a1a1a" stroke="#1a1a1a" stroke-width="0.12">kcal mol<tspan font-size="8" dy="-5.5">-1</tspan><tspan dy="5.5"> of injectant</tspan></text>
<rect x="437.5" y="38.5" width="235.0" height="329.0" fill="none" stroke="#222" stroke-width="1"/>
<path d="M433.2,202.5 H672.5" stroke="#222" stroke-width="1"/>
<path d="M458.0,38.5 v4.3 M477.5,38.5 v2.2 M497.0,38.5 v4.3 M516.5,38.5 v2.2 M536.0,38.5 v4.3 M555.5,38.5 v2.2 M575.0,38.5 v4.3 M594.5,38.5 v2.2 M614.0,38.5 v4.3 M633.5,38.5 v2.2 M653.0,38.5 v4.3 M672.5,38.5 v2.2 M437.5,38.5 h-4.3 M672.5,38.5 h-4.3 M437.5,52.2 h-1.8 M672.5,52.2 h-2.2 M437.5,65.8 h-4.3 M672.5,65.8 h-4.3 M437.5,79.5 h-1.8 M672.5,79.5 h-2.2 M437.5,93.2 h-4.3 M672.5,93.2 h-4.3 M437.5,106.8 h-1.8 M672.5,106.8 h-2.2 M437.5,120.5 h-4.3 M672.5,120.5 h-4.3 M437.5,134.2 h-1.8 M672.5,134.2 h-2.2 M437.5,147.8 h-4.3 M672.5,147.8 h-4.3 M437.5,161.5 h-1.8 M672.5,161.5 h-2.2 M437.5,175.2 h-4.3 M672.5,175.2 h-4.3 M437.5,188.8 h-1.8 M672.5,188.8 h-2.2 M437.5,202.5 h-4.3 M672.5,202.5 h-4.3 M437.5,212.6 h-4.3 M672.5,212.6 h-4.3 M437.5,236.8 h-1.8 M672.5,236.8 h-2.2 M437.5,261.0 h-4.3 M672.5,261.0 h-4.3 M437.5,285.2 h-1.8 M672.5,285.2 h-2.2 M437.5,309.4 h-4.3 M672.5,309.4 h-4.3 M437.5,333.6 h-1.8 M672.5,333.6 h-2.2 M437.5,357.8 h-4.3 M672.5,357.8 h-4.3 M437.9,367.5 v2.0 M437.9,202.5 v2.2 M461.4,367.5 v3.0 M461.4,202.5 v4.5 M484.8,367.5 v2.0 M484.8,202.5 v2.2 M508.3,367.5 v3.0 M508.3,202.5 v4.5 M531.8,367.5 v2.0 M531.8,202.5 v2.2 M555.2,367.5 v3.0 M555.2,202.5 v4.5 M578.6,367.5 v2.0 M578.6,202.5 v2.2 M602.1,367.5 v3.0 M602.1,202.5 v4.5 M625.5,367.5 v2.0 M625.5,202.5 v2.2 M649.0,367.5 v3.0 M649.0,202.5 v4.5 M672.4,367.5 v2.0 M672.4,202.5 v2.2 M437.5,367.5 v3 M672.5,367.5 v3" stroke="#333" stroke-width="1" fill="none"/>
<path d="M458.2,175.0 L459.4,175.3 L460.6,175.2 L461.8,175.4 L463.0,175.4 L464.2,174.9 L465.4,174.8 L466.6,175.6 L467.8,175.1 L469.0,175.0 L470.2,175.8 L471.4,175.3 L472.6,175.6 L473.8,175.3 L475.0,175.4 L476.2,175.0 L477.4,175.4 L478.6,175.7 L479.8,175.3 L481.0,175.5 L482.2,175.5 L483.4,174.9 L484.6,175.6 L485.8,175.4 L487.0,175.1 L488.2,174.8 L489.4,175.7 L490.6,175.3 L491.8,175.5 L493.0,175.7 L494.2,175.5 L495.4,175.7 L496.6,175.2 L497.8,175.6 L499.0,175.2 L500.2,175.7 L501.4,175.7 L502.6,174.9 L503.8,174.9 L505.0,175.0 L506.2,175.8 L507.4,175.2 L508.6,175.4 L509.8,175.1 L511.0,175.3 L512.2,175.2 L513.4,175.2 L514.6,175.4 L515.8,175.4 L517.0,175.7 L518.2,175.5 L519.4,175.7 L520.6,175.7 L521.8,175.8 L523.0,175.5 L524.2,175.0 L525.4,175.7 L526.6,175.8 L527.8,175.7 L529.0,175.4 L530.2,175.5 L531.4,175.0 L532.6,175.6 L533.8,175.4 L535.0,175.1 L536.2,174.9 L537.4,175.7 L538.6,175.8 L539.8,174.9 L541.0,175.6 L542.2,175.2 L543.4,175.0 L544.6,175.1 L545.8,175.6 L547.0,175.7 L548.2,174.8 L549.4,175.4 L550.6,174.8 L551.8,175.5 L553.0,175.1 L554.2,175.7 L555.4,175.8 L556.6,175.3 L557.8,175.8 L559.0,175.1 L560.2,174.9 L561.4,175.4 L562.6,174.8 L563.8,175.0 L565.0,175.2 L566.2,175.4 L567.4,175.0 L568.6,174.8 L569.8,175.7 L571.0,175.1 L572.2,175.8 L573.4,175.7 L574.6,175.2 L575.8,175.3 L577.0,175.3 L578.2,175.4 L579.4,175.4 L580.6,175.4 L581.8,175.4 L583.0,175.7 L584.2,175.3 L585.4,175.2 L586.6,175.5 L587.8,175.0 L589.0,175.1 L590.2,175.8 L591.4,175.3 L592.6,175.3 L593.8,174.8 L595.0,175.2 L596.2,175.4 L597.4,174.8 L598.6,175.4 L599.8,175.4 L601.0,174.9 L602.2,175.4 L603.4,175.3 L604.6,175.5 L605.8,175.2 L607.0,175.5 L608.2,175.5 L609.4,174.8 L610.6,174.9 L611.8,175.5 L613.0,175.8 L614.2,175.1 L615.4,175.3 L616.6,175.4 L617.8,175.1 L619.0,175.2 L620.2,175.1 L621.4,175.2 L622.6,175.4 L623.8,175.1 L625.0,175.2 L626.2,175.6 L627.4,174.8 L628.6,175.4 L629.8,175.5 L631.0,175.1 L632.2,175.0 L633.4,175.6 L634.6,175.0 L635.8,175.0 L637.0,175.2 L638.2,175.5 L639.4,174.9 L640.6,175.1 L641.8,175.1 L643.0,175.6 L644.2,175.2 L645.4,175.7 L646.6,175.0" fill="none" stroke="#000" stroke-width="0.8"/><path d="M462.2,174.3 L462.2,140.9" stroke="#000" stroke-width="0.8" fill="none"/><path d="M461.4,175.3 L461.8,167.2 L462.7,167.2 L463.0,175.3 L463.8,179.8 L464.4,175.3" fill="none" stroke="#000" stroke-width="0.8"/><path d="M472.4,101.9 L472.4,52.2" stroke="#000" stroke-width="0.85" fill="none"/><path d="M472.8,98.9 L472.8,158.0" stroke="#000" stroke-width="1.5" fill="none"/><path d="M469.8,175.3 L471.8,158.0 L472.0,150.0 M473.4,148.0 L474.0,158.0 L474.6,174.5 L475.4,175.3" fill="none" stroke="#000" stroke-width="0.85"/><path d="M482.0,104.1 L482.0,60.0" stroke="#000" stroke-width="0.85" fill="none"/><path d="M482.4,101.1 L482.4,159.0" stroke="#000" stroke-width="1.5" fill="none"/><path d="M479.4,175.3 L481.4,159.0 L481.6,151.0 M483.0,149.0 L483.6,159.0 L484.2,174.5 L485.0,175.3" fill="none" stroke="#000" stroke-width="0.85"/><path d="M491.8,111.9 L491.8,77.8" stroke="#000" stroke-width="0.85" fill="none"/><path d="M492.2,108.9 L492.2,160.0" stroke="#000" stroke-width="1.5" fill="none"/><path d="M489.2,175.3 L491.2,160.0 L491.4,152.0 M492.8,150.0 L493.4,160.0 L494.0,174.5 L494.8,175.3" fill="none" stroke="#000" stroke-width="0.85"/><path d="M501.6,108.6 L501.6,94.4" stroke="#000" stroke-width="0.85" fill="none"/><path d="M502.0,105.6 L502.0,158.0" stroke="#000" stroke-width="1.5" fill="none"/><path d="M499.0,175.3 L501.0,158.0 L501.2,150.0 M502.6,148.0 L503.2,158.0 L503.8,174.5 L504.6,175.3" fill="none" stroke="#000" stroke-width="0.85"/><path d="M511.4,176.8 L511.4,106.7" stroke="#000" stroke-width="0.85" fill="none"/><path d="M510.9,175.3 L511.0,112.0 L511.8,112.0 L512.2,146.0 L512.6,154.6 L513.1,160.6 L513.5,164.9 L514.0,168.0 L514.4,170.1 L514.9,171.6 L515.3,172.7 L515.8,173.5 L516.2,174.0 L516.7,174.4 L517.1,174.6 L517.6,174.8 L518.0,175.0" fill="none" stroke="#000" stroke-width="0.85"/><path d="M521.0,177.8 L521.0,112.4" stroke="#000" stroke-width="0.85" fill="none"/><path d="M520.5,175.3 L520.6,118.9 L521.4,118.9 L521.8,150.0 L522.2,157.4 L522.7,162.6 L523.1,166.3 L523.6,169.0 L524.0,170.8 L524.5,172.1 L524.9,173.1 L525.4,173.7 L525.8,174.2 L526.3,174.5 L526.8,174.7 L527.2,174.9 L527.6,175.0" fill="none" stroke="#000" stroke-width="0.85"/><path d="M530.9,178.8 L530.9,124.6" stroke="#000" stroke-width="0.85" fill="none"/><path d="M530.4,175.3 L530.5,128.0 L531.3,128.0 L531.7,150.0 L532.1,157.4 L532.6,162.6 L533.0,166.3 L533.5,169.0 L533.9,170.8 L534.4,172.1 L534.8,173.1 L535.3,173.7 L535.7,174.2 L536.2,174.5 L536.6,174.7 L537.1,174.9 L537.5,175.0" fill="none" stroke="#000" stroke-width="0.85"/><path d="M540.7,179.3 L540.7,131.1" stroke="#000" stroke-width="0.85" fill="none"/><path d="M540.2,175.3 L540.3,135.0 L541.1,135.0 L541.5,155.0 L542.0,160.9 L542.4,165.1 L542.9,168.1 L543.3,170.2 L543.8,171.7 L544.2,172.8 L544.6,173.5 L545.1,174.0 L545.5,174.4 L546.0,174.7 L546.5,174.8 L546.9,175.0 L547.4,175.1" fill="none" stroke="#000" stroke-width="0.85"/><path d="M550.7,180.8 L550.7,135.2" stroke="#000" stroke-width="0.85" fill="none"/><path d="M550.2,175.3 L550.3,140.0 L551.1,140.0 L551.5,158.0 L552.0,163.1 L552.4,166.6 L552.9,169.2 L553.3,171.0 L553.8,172.2 L554.2,173.1 L554.6,173.8 L555.1,174.2 L555.5,174.5 L556.0,174.8 L556.5,174.9 L556.9,175.0 L557.4,175.1" fill="none" stroke="#000" stroke-width="0.85"/><path d="M560.4,180.8 L560.4,140.4" stroke="#000" stroke-width="0.85" fill="none"/><path d="M559.9,175.3 L560.0,147.2 L560.8,147.2 L561.2,160.0 L561.6,164.5 L562.1,167.6 L562.5,169.9 L563.0,171.5 L563.4,172.6 L563.9,173.4 L564.3,173.9 L564.8,174.3 L565.2,174.6 L565.7,174.8 L566.1,175.0 L566.6,175.1 L567.0,175.1" fill="none" stroke="#000" stroke-width="0.85"/><path d="M570.2,182.8 L570.2,144.2" stroke="#000" stroke-width="0.85" fill="none"/><path d="M569.7,175.3 L569.8,155.4 L570.6,155.4 L571.0,163.5 L571.5,167.0 L571.9,169.4 L572.4,171.1 L572.8,172.3 L573.2,173.2 L573.7,173.8 L574.1,174.3 L574.6,174.6 L575.0,174.8 L575.5,174.9 L576.0,175.0 L576.4,175.1 L576.9,175.2" fill="none" stroke="#000" stroke-width="0.85"/><path d="M579.9,184.1 L579.9,147.0" stroke="#000" stroke-width="0.85" fill="none"/><path d="M579.4,175.3 L579.5,162.2 L580.3,162.2 L580.7,163.0 L581.1,166.6 L581.6,169.1 L582.0,170.9 L582.5,172.2 L582.9,173.1 L583.4,173.8 L583.8,174.2 L584.3,174.5 L584.7,174.8 L585.2,174.9 L585.6,175.0 L586.1,175.1 L586.5,175.2" fill="none" stroke="#000" stroke-width="0.85"/><path d="M589.6,185.3 L589.6,148.3" stroke="#000" stroke-width="0.85" fill="none"/><path d="M589.1,175.3 L589.2,164.2 L590.0,164.2 L590.4,164.5 L590.9,167.7 L591.3,169.9 L591.8,171.5 L592.2,172.6 L592.6,173.4 L593.1,173.9 L593.5,174.3 L594.0,174.6 L594.4,174.8 L594.9,175.0 L595.4,175.1 L595.8,175.1 L596.2,175.2" fill="none" stroke="#000" stroke-width="0.85"/><path d="M599.5,183.3 L599.5,156.2" stroke="#000" stroke-width="0.85" fill="none"/><path d="M599.0,175.3 L599.1,168.5 L599.9,168.5 L600.3,168.5 L600.8,170.5 L601.2,171.9 L601.6,172.9 L602.1,173.6 L602.5,174.1 L603.0,174.4 L603.4,174.7 L603.9,174.9 L604.3,175.0 L604.8,175.1 L605.2,175.1 L605.7,175.2 L606.1,175.2" fill="none" stroke="#000" stroke-width="0.85"/><path d="M609.2,184.8 L609.2,158.3" stroke="#000" stroke-width="0.85" fill="none"/><path d="M608.7,175.3 L608.8,168.3 L609.6,168.3 L610.0,168.3 L610.5,170.3 L610.9,171.8 L611.4,172.8 L611.8,173.5 L612.2,174.1 L612.7,174.4 L613.1,174.7 L613.6,174.9 L614.0,175.0 L614.5,175.1 L615.0,175.1 L615.4,175.2 L615.9,175.2" fill="none" stroke="#000" stroke-width="0.85"/><path d="M618.8,184.8 L618.8,158.3" stroke="#000" stroke-width="0.85" fill="none"/><path d="M618.3,175.3 L618.4,170.0 L619.2,170.0 L619.6,170.0 L620.0,171.6 L620.5,172.6 L620.9,173.4 L621.4,174.0 L621.8,174.4 L622.3,174.6 L622.7,174.8 L623.2,175.0 L623.6,175.1 L624.1,175.1 L624.5,175.2 L625.0,175.2 L625.4,175.2" fill="none" stroke="#000" stroke-width="0.85"/><path d="M628.9,185.3 L628.9,158.3" stroke="#000" stroke-width="0.85" fill="none"/><path d="M628.4,175.3 L628.5,171.0 L629.3,171.0 L629.7,171.0 L630.1,172.3 L630.6,173.1 L631.0,173.8 L631.5,174.2 L631.9,174.5 L632.4,174.8 L632.8,174.9 L633.3,175.0 L633.7,175.1 L634.2,175.2 L634.6,175.2 L635.1,175.2 L635.5,175.3" fill="none" stroke="#000" stroke-width="0.85"/><path d="M638.4,184.3 L638.4,162.2" stroke="#000" stroke-width="0.85" fill="none"/><path d="M637.9,175.3 L638.0,172.0 L638.8,172.0 L639.2,172.0 L639.6,173.0 L640.1,173.6 L640.5,174.1 L641.0,174.5 L641.4,174.7 L641.9,174.9 L642.3,175.0 L642.8,175.1 L643.2,175.2 L643.7,175.2 L644.1,175.2 L644.6,175.2 L645.0,175.3" fill="none" stroke="#000" stroke-width="0.85"/>
<rect x="470.5" y="251.1" width="5.2" height="5.2" fill="#000"/><rect x="480.0" y="241.3" width="5.2" height="5.2" fill="#000"/><rect x="489.4" y="248.5" width="5.2" height="5.2" fill="#000"/><rect x="498.9" y="254.8" width="5.2" height="5.2" fill="#000"/><rect x="508.8" y="273.0" width="5.2" height="5.2" fill="#000"/><rect x="518.6" y="283.3" width="5.2" height="5.2" fill="#000"/><rect x="528.1" y="281.8" width="5.2" height="5.2" fill="#000"/><rect x="538.3" y="288.2" width="5.2" height="5.2" fill="#000"/><rect x="548.1" y="297.7" width="5.2" height="5.2" fill="#000"/><rect x="558.1" y="302.9" width="5.2" height="5.2" fill="#000"/><rect x="568.6" y="305.7" width="5.2" height="5.2" fill="#000"/><rect x="578.7" y="308.3" width="5.2" height="5.2" fill="#000"/><rect x="589.4" y="312.0" width="5.2" height="5.2" fill="#000"/><rect x="599.8" y="319.8" width="5.2" height="5.2" fill="#000"/><rect x="610.3" y="319.0" width="5.2" height="5.2" fill="#000"/><rect x="620.7" y="320.4" width="5.2" height="5.2" fill="#000"/><rect x="631.7" y="321.8" width="5.2" height="5.2" fill="#000"/><rect x="642.4" y="325.2" width="5.2" height="5.2" fill="#000"/>
</svg>
</body></html>
